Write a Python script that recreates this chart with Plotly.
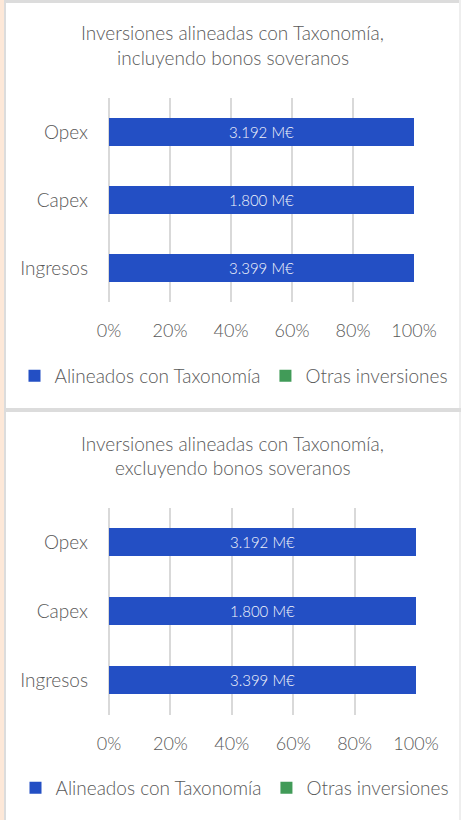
import plotly.graph_objects as go

# ---- data ----
categories = ["Opex", "Capex", "Ingresos"]
aligned_pct = [100, 100, 100]
other_pct = [0, 0, 0]
aligned_labels_incl = ["3.192 M€", "1.800 M€", "3.399 M€"]
aligned_labels_excl = ["3.192 M€", "1.800 M€", "3.399 M€"]
x_ticks = [0, 20, 40, 60, 80, 100]
x_tick_labels = ["0%", "20%", "40%", "60%", "80%", "100%"]
series_names = ["Alineados con Taxonomía", "Otras inversiones"]
titles = [
    ["Inversiones alineadas con Taxonomía,", "incluyendo bonos soveranos"],
    ["Inversiones alineadas con Taxonomía,", "excluyendo bonos soveranos"],
]

W, H = 461, 820
BLUE = "#234FC4"
GREEN = "#419B58"
TXT = "#595959"
GRID = "#d9d9d9"
FONT = "Lato"


def px(x):
    return x / W


def py(y):
    return 1 - y / H


fig = go.Figure()

panels = [
    dict(xa="x", ya="y", labels=aligned_labels_incl, legend="legend",
         xdom=[px(109), px(414)], ydom=[py(302), py(98)]),
    dict(xa="x2", ya="y2", labels=aligned_labels_excl, legend="legend2",
         xdom=[px(109), px(416)], ydom=[py(714.5), py(507.5)]),
]

for p in panels:
    fig.add_trace(go.Bar(
        y=categories, x=aligned_pct, orientation="h", name=series_names[0],
        marker=dict(color=BLUE, line=dict(width=0)),
        text=p["labels"], textposition="inside", insidetextanchor="middle",
        textfont=dict(color="#f2f4fb", size=15, family=FONT, weight=300),
        constraintext="none", width=0.4,
        xaxis=p["xa"], yaxis=p["ya"], legend=p["legend"],
    ))
    fig.add_trace(go.Bar(
        y=categories, x=other_pct, orientation="h", name=series_names[1],
        marker=dict(color=GREEN, line=dict(width=0)), width=0.4,
        xaxis=p["xa"], yaxis=p["ya"], legend=p["legend"],
    ))

xtick_font = dict(family=FONT, size=18, color=TXT, weight=300)
ytick_font = dict(family=FONT, size=19, color=TXT, weight=300)
common_x = dict(range=[0, 100], tickvals=x_ticks, ticktext=x_tick_labels,
                showgrid=True, gridcolor=GRID, gridwidth=2,
                zeroline=True, zerolinecolor=GRID, zerolinewidth=2,
                showline=False, ticks="", tickfont=xtick_font,
                ticklabelstandoff=16, fixedrange=True, automargin=False)
common_y = dict(autorange="reversed", showgrid=False, zeroline=False,
                showline=False, ticks="", tickfont=ytick_font,
                ticklabelstandoff=20, fixedrange=True, automargin=False)

legend_font = dict(family=FONT, size=19, color=TXT, weight=300)

fig.update_layout(
    width=W, height=H, autosize=False,
    margin=dict(l=0, r=0, t=0, b=0, autoexpand=False),
    paper_bgcolor="white", plot_bgcolor="rgba(0,0,0,0)",
    barmode="stack",
    font=dict(family=FONT, color=TXT, size=16),
    xaxis=dict(domain=panels[0]["xdom"], anchor="y", **common_x),
    yaxis=dict(domain=panels[0]["ydom"], anchor="x", **common_y),
    xaxis2=dict(domain=panels[1]["xdom"], anchor="y2", **common_x),
    yaxis2=dict(domain=panels[1]["ydom"], anchor="x2", **common_y),
    legend=dict(orientation="h", x=px(234), y=py(376), xanchor="center",
                yanchor="middle", font=legend_font,
                traceorder="normal", itemwidth=30, bgcolor="rgba(0,0,0,0)"),
    legend2=dict(orientation="h", x=px(235), y=py(788), xanchor="center",
                 yanchor="middle", font=legend_font,
                 traceorder="normal", itemwidth=30, bgcolor="rgba(0,0,0,0)"),
    showlegend=True,
)

# titles
title_rows = [(titles[0], [32, 57]), (titles[1], [443, 468])]
for lines, ys in title_rows:
    for line, y in zip(lines, ys):
        fig.add_annotation(text=line, x=px(232.5), y=py(y), xref="paper",
                           yref="paper", xanchor="center", yanchor="middle",
                           showarrow=False,
                           font=dict(family=FONT, size=19, color=TXT, weight=300))

# page frame
def rect(x0, y0, x1, y1, color):
    fig.add_shape(type="rect", xref="paper", yref="paper",
                  x0=px(x0), x1=px(x1), y0=py(y1), y1=py(y0),
                  fillcolor=color, line=dict(width=0), layer="below")

rect(0, 0, 4, H, "#fde8d8")
rect(4, 0, 6, H, "#dcdcdc")
rect(4, 0, W, 3, "#dcdcdc")
rect(459, 0, W, H, "#eeeeee")
rect(6, 408, W, 412, "#dcdcdc")

fig.write_html("out.html", config={"displayModeBar": False},
               post_script="document.body.style.margin='0';")
